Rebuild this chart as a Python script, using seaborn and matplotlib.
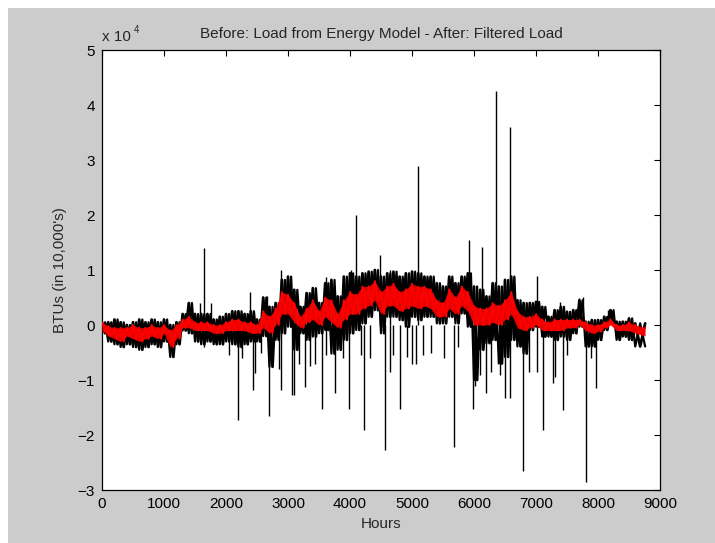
import matplotlib
matplotlib.use("Agg")
import numpy as np
import pandas as pd
import seaborn as sns
import matplotlib.pyplot as plt
from matplotlib.patches import Rectangle

# values in units of 10^4 BTU, read every 100 hours
hours = list(range(0, 8700, 100)) + [8760]
black_hi = [0.05, 0.05, 0.10, 0.05, 0.00, 0.05, 0.10, 0.05, 0.10, 0.05,
            0.10, 0.00, 0.05, 0.20, 0.40, 0.20, 0.20, 0.20, 0.10, 0.15,
            0.20, 0.25, 0.25, 0.20, 0.25, 0.10, 0.50, 0.33, 0.40, 0.82,
            0.88, 0.64, 0.33, 0.58, 0.67, 0.40, 0.76, 0.82, 0.52, 0.88,
            0.94, 0.88, 0.94, 0.97, 1.00, 0.88, 0.94, 0.97, 0.88, 0.94,
            0.97, 0.94, 0.88, 0.88, 0.76, 0.70, 0.88, 0.76, 0.88, 0.94,
            0.70, 0.64, 0.52, 0.76, 0.70, 0.82, 0.88, 0.45, 0.40, 0.40,
            0.42, 0.33, 0.15, 0.27, 0.33, 0.24, 0.27, 0.45, 0.06, 0.09,
            0.09, 0.15, 0.27, 0.06, 0.06, 0.12, 0.03, 0.03]
black_lo = [-0.15, -0.30, -0.35, -0.40, -0.35, -0.40, -0.45, -0.40, -0.35, -0.40,
            -0.30, -0.58, -0.35, -0.10, -0.15, -0.30, -0.35, -0.30, -0.35, -0.35,
            -0.30, -0.35, -0.40, -0.35, -0.30, -0.30, -0.20, -0.76, -0.27, -0.15,
            -0.03, -0.45, -0.15, -0.27, -0.21, -0.15, -0.09, -0.52, -0.45, -0.27,
            -0.15, -0.09, 0.03, 0.15, 0.27, -0.15, 0.15, 0.15, 0.09, -0.03,
            0.15, 0.09, 0.15, 0.15, 0.03, 0.03, 0.15, 0.03, 0.21, -0.03,
            -1.00, -0.45, -0.33, -0.27, -0.70, -0.58, -0.27, -0.39, -0.52, -0.09,
            -0.03, -0.21, -0.21, -0.27, -0.21, -0.27, -0.15, -0.03, -0.39, -0.39,
            -0.27, -0.09, 0.03, -0.27, -0.21, -0.27, -0.39, -0.39]
red_hi = [0.05, -0.02, -0.05, -0.05, -0.05, 0.00, -0.05, -0.05, 0.00, -0.05,
          0.00, -0.10, 0.00, 0.10, 0.15, 0.05, 0.05, 0.05, 0.00, 0.00,
          0.05, 0.10, 0.10, 0.05, 0.05, 0.00, 0.25, 0.15, 0.30, 0.60,
          0.55, 0.40, 0.15, 0.30, 0.45, 0.25, 0.50, 0.45, 0.20, 0.45,
          0.60, 0.55, 0.70, 0.70, 0.80, 0.60, 0.70, 0.75, 0.60, 0.65,
          0.75, 0.70, 0.70, 0.65, 0.45, 0.40, 0.65, 0.50, 0.70, 0.60,
          0.35, 0.30, 0.30, 0.40, 0.35, 0.45, 0.60, 0.25, 0.15, 0.15,
          0.20, 0.10, 0.05, 0.10, 0.10, 0.10, 0.10, 0.10, 0.05, 0.00,
          0.00, 0.05, 0.10, 0.00, 0.00, 0.05, 0.00, -0.05]
red_lo = [-0.10, -0.20, -0.25, -0.30, -0.20, -0.25, -0.30, -0.25, -0.20, -0.25,
          -0.15, -0.40, -0.25, -0.05, -0.05, -0.10, -0.10, -0.10, -0.15, -0.15,
          -0.10, -0.10, -0.10, -0.10, -0.15, -0.15, -0.05, -0.15, 0.00, 0.20,
          0.20, 0.05, -0.05, 0.05, 0.10, 0.00, 0.15, 0.05, -0.05, 0.10,
          0.20, 0.20, 0.30, 0.35, 0.45, 0.20, 0.35, 0.35, 0.25, 0.30,
          0.35, 0.30, 0.35, 0.30, 0.15, 0.15, 0.30, 0.20, 0.35, 0.25,
          0.00, 0.00, 0.00, 0.05, 0.00, 0.10, 0.20, -0.05, -0.10, -0.05,
          0.00, -0.10, -0.10, -0.10, -0.10, -0.05, -0.05, 0.00, -0.10, -0.15,
          -0.12, -0.05, 0.00, -0.10, -0.10, -0.10, -0.15, -0.20]

# single-hour spikes in the raw load
spike_hours = [1645, 1580, 1750, 2390, 2660, 2890, 3620, 4010, 4100, 4480,
               4650, 5090, 5920, 6130, 6350, 6580, 6640, 7020, 7385, 7700,
               7760, 8165,
               1650, 2050, 2200, 2250, 2440, 2470, 2560, 2700, 2850, 2890,
               3060, 3100, 3170, 3270, 3350, 3430, 3540, 3620, 3760, 3880,
               3990, 4170, 4225, 4330, 4566, 4650, 4700, 4810, 4920, 5000,
               5070, 5180, 5300, 5520, 5670, 5740, 5980, 6020, 6100, 6200,
               6270, 6420, 6500, 6580, 6790, 6880, 7020, 7120, 7270, 7300,
               7430, 7500, 7810, 7890, 7970]
spike_vals = [1.40, 0.40, 0.40, 0.60, 0.52, 1.00, 0.88, 1.00, 2.00, 1.27,
              1.00, 2.90, 1.55, 1.42, 4.25, 3.60, 0.88, 0.89, 0.42, 0.50,
              0.51, 0.27,
              -0.40, -0.55, -1.73, -0.60, -1.18, -0.88, -0.50, -1.66, -0.80, -1.18,
              -1.27, -1.27, -0.70, -1.12, -0.75, -0.70, -1.52, -0.55, -1.24, -0.60,
              -1.52, -0.55, -1.90, -0.60, -2.27, -0.85, -0.55, -1.52, -0.58, -0.70,
              -0.70, -0.55, -0.50, -0.60, -2.21, -0.40, -1.52, -1.10, -0.90, -1.24,
              -0.85, -0.90, -1.33, -1.33, -2.65, -0.85, -0.85, -1.90, -1.06, -0.95,
              -1.55, -0.55, -2.85, -0.60, -1.15]

x_ticks = list(range(0, 10000, 1000))
y_ticks = list(range(-3, 6))


def zigzag(xs, hi, lo):
    # alternate between the read upper and lower values
    px, py = [], []
    for i, h in enumerate(xs):
        px.append(h)
        py.append(hi[i])
        if i < len(xs) - 1:
            px.append((h + xs[i + 1]) / 2)
            py.append(lo[i])
    return pd.DataFrame({"Hours": px, "Load": py})


sns.set_theme(style="white")
plt.rcParams['font.family'] = ['Liberation Sans', 'DejaVu Sans']

fig = plt.figure(figsize=(7.15, 5.43), dpi=100, facecolor='white')
fig.add_artist(Rectangle((8 / 715, 0), 1, 1 - 8 / 543, transform=fig.transFigure,
                         facecolor='#cccccc', edgecolor='none', zorder=-10))
ax = fig.add_axes([0.1427, 0.0976, 0.7804, 0.8103])
ax.set_facecolor('white')

# raw load: zig-zag band + spikes
black_df = zigzag(hours, black_hi, black_lo)
black_df2 = zigzag(hours, black_lo, black_hi)
sns.lineplot(data=black_df, x="Hours", y="Load", sort=False, estimator=None,
             color='black', lw=2.0, ax=ax, zorder=2)
sns.lineplot(data=black_df2, x="Hours", y="Load", sort=False, estimator=None,
             color='black', lw=1.6, ax=ax, zorder=2)
ax.vlines(spike_hours, 0, spike_vals, color='black', lw=1.0, zorder=2)

# filtered load
red_df = zigzag(hours, red_hi, red_lo)
ax.fill_between(hours, red_lo, red_hi, color='red', lw=0, alpha=0.9, zorder=3)
sns.lineplot(data=red_df, x="Hours", y="Load", sort=False, estimator=None,
             color='red', lw=1.4, ax=ax, zorder=4)

ax.set_xlim(0, 9000)
ax.set_ylim(-3, 5)
ax.set_xticks(x_ticks)
ax.set_yticks(y_ticks)
ax.tick_params(direction='in', length=4, width=0.8, top=True, right=True,
               labelsize=11, colors='black', pad=5)
for s in ax.spines.values():
    s.set_color('black')
    s.set_linewidth(0.9)

ax.set_title("Before: Load from Energy Model - After: Filtered Load", fontsize=11, pad=9)
ax.set_xlabel("Hours", fontsize=11, labelpad=4)
ax.set_ylabel("BTUs (in 10,000's)", fontsize=11, labelpad=8)
ax.annotate("x 10", xy=(0, 1), xycoords='axes fraction', xytext=(0, 4),
            textcoords='offset points', ha='left', va='bottom', fontsize=11)
ax.annotate("4", xy=(0, 1), xycoords='axes fraction', xytext=(23, 11),
            textcoords='offset points', ha='left', va='bottom', fontsize=7)

fig.savefig("out.png", dpi=100, facecolor=fig.get_facecolor())
